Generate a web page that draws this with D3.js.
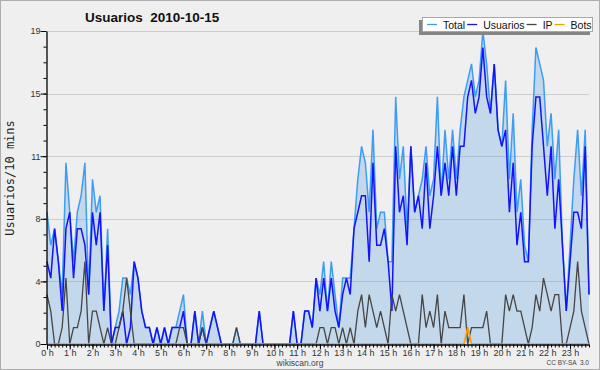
<!DOCTYPE html>
<html>
<head>
<meta charset="utf-8">
<script src="https://cdn.jsdelivr.net/npm/d3@7"></script>
<style>
  body { margin: 0; background: #efeff0; }
  svg { display: block; }
</style>
</head>
<body>
<div id="chart"></div>
<script>
// etiquetas de horas del eje x
const hourLabels = ["0 h", "1 h", "2 h", "3 h", "4 h", "5 h", "6 h", "7 h", "8 h", "9 h", "10 h", "11 h",
  "12 h", "13 h", "14 h", "15 h", "16 h", "17 h", "18 h", "19 h", "20 h", "21 h", "22 h", "23 h"];
const yTickValues = [0, 3.8, 7.6, 11.4, 15.2, 19];
const yTickLabels = ["0", "4", "8", "11", "15", "19"];
const seriesNames = ["Total", "Usuarios", "IP", "Bots"];

// valores cada 10 minutos (144 puntos)
const total = [
  8, 6, 7, 5, 3, 11, 8, 5, 8, 9,
  11, 3, 10, 8, 9, 2, 7, 0, 1, 2,
  4, 4, 3, 5, 4, 2, 1, 1, 0, 1,
  0, 1, 0, 1, 1, 2, 3, 0, 0, 2,
  0, 2, 0, 1, 2, 1, 0, 0, 0, 0,
  1, 0, 0, 0, 0, 0, 2, 0, 0, 0,
  0, 0, 0, 0, 0, 2, 0, 0, 2, 2,
  1, 4, 3, 5, 2, 5, 3, 1, 4, 4,
  4, 7, 10, 12, 11, 8, 13, 7, 8, 8,
  5, 5, 15, 10, 12, 7, 12, 8, 9, 10,
  12, 9, 10, 15, 9, 13, 10, 13, 10, 13,
  15, 16, 17, 15, 16, 19, 17, 14, 17, 13,
  12, 16, 10, 14, 8, 10, 6, 5, 13, 18,
  17, 16, 12, 14, 10, 13, 6, 2, 6, 10,
  13, 9, 13, 3
];
const usuarios = [
  5, 4, 7, 5, 2, 7, 8, 4, 7, 7,
  6, 3, 8, 6, 8, 2, 6, 0, 1, 1,
  2, 0, 1, 5, 4, 2, 1, 1, 0, 1,
  0, 1, 0, 1, 1, 1, 2, 0, 0, 2,
  0, 1, 0, 1, 2, 1, 0, 0, 0, 0,
  0, 0, 0, 0, 0, 0, 2, 0, 0, 0,
  0, 0, 0, 0, 0, 2, 0, 0, 2, 2,
  1, 4, 2, 4, 2, 4, 2, 1, 3, 4,
  3, 7, 8, 9, 9, 5, 11, 6, 6, 7,
  5, 2, 12, 8, 9, 6, 12, 8, 9, 7,
  11, 7, 9, 12, 9, 11, 9, 12, 9, 12,
  12, 15, 16, 14, 15, 18, 15, 14, 17, 13,
  12, 13, 8, 11, 6, 8, 5, 5, 12, 15,
  15, 12, 9, 12, 7, 10, 6, 2, 5, 8,
  8, 7, 12, 3
];
const ip = [
  3, 2, 0, 0, 1, 4, 0, 1, 1, 2,
  5, 0, 2, 2, 1, 0, 1, 0, 0, 1,
  2, 4, 2, 0, 0, 0, 0, 0, 0, 0,
  0, 0, 0, 0, 0, 1, 1, 0, 0, 0,
  0, 1, 0, 0, 0, 0, 0, 0, 0, 0,
  1, 0, 0, 0, 0, 0, 0, 0, 0, 0,
  0, 0, 0, 0, 0, 0, 0, 0, 0, 0,
  0, 0, 1, 1, 0, 1, 1, 0, 1, 0,
  1, 0, 2, 3, 1, 3, 2, 1, 2, 1,
  0, 3, 2, 3, 2, 1, 0, 0, 0, 3,
  1, 2, 1, 3, 0, 2, 1, 1, 1, 1,
  3, 0, 1, 1, 1, 1, 2, 0, 0, 0,
  0, 3, 2, 3, 2, 2, 1, 0, 1, 3,
  2, 4, 3, 2, 3, 3, 0, 0, 1, 2,
  5, 2, 1, 0
];
const bots = [
  0, 0, 0, 0, 0, 0, 0, 0, 0, 0,
  0, 0, 0, 0, 0, 0, 0, 0, 0, 0,
  0, 0, 0, 0, 0, 0, 0, 0, 0, 0,
  0, 0, 0, 0, 0, 0, 0, 0, 0, 0,
  0, 0, 0, 0, 0, 0, 0, 0, 0, 0,
  0, 0, 0, 0, 0, 0, 0, 0, 0, 0,
  0, 0, 0, 0, 0, 0, 0, 0, 0, 0,
  0, 0, 0, 0, 0, 0, 0, 0, 0, 0,
  0, 0, 0, 0, 0, 0, 0, 0, 0, 0,
  0, 0, 0, 0, 0, 0, 0, 0, 0, 0,
  0, 0, 0, 0, 0, 0, 0, 0, 0, 0,
  0, 1, 0, 0, 0, 0, 0, 0, 0, 0,
  0, 0, 0, 0, 0, 0, 0, 0, 0, 0,
  0, 0, 0, 0, 0, 0, 0, 0, 0, 0,
  0, 0, 0, 0
];

const colors = { Total: "#3d9cf5", Usuarios: "#1212ff", IP: "#454545", Bots: "#ff9a00" };
const seriesData = { Total: total, Usuarios: usuarios, IP: ip, Bots: bots };

const width = 600;
const height = 370;
const font = "'Liberation Sans', Arial, sans-serif";

const svg = d3.select("#chart")
  .append("svg")
  .attr("width", width)
  .attr("height", height);

// fondo y borde
svg.append("rect")
  .attr("x", 0.5).attr("y", 0.5)
  .attr("width", width - 1).attr("height", height - 1)
  .attr("fill", "#efeff0")
  .attr("stroke", "#adadad");

const x = d3.scaleLinear().domain([0, total.length - 1]).range([47, 589]);
const y = d3.scaleLinear().domain([0, 19]).range([344, 31]);

// recorte para que las lineas en cero queden bajo el eje
svg.append("clipPath")
  .attr("id", "plot-clip")
  .append("rect")
  .attr("x", 0).attr("y", 0)
  .attr("width", width).attr("height", y(0));

// lineas de cuadricula
svg.append("g")
  .selectAll("line")
  .data(yTickValues.slice(1))
  .join("line")
  .attr("x1", x(0)).attr("x2", x(total.length - 1))
  .attr("y1", d => Math.round(y(d)) + 0.5)
  .attr("y2", d => Math.round(y(d)) + 0.5)
  .attr("stroke", "#cdcdcf");

const plot = svg.append("g").attr("clip-path", "url(#plot-clip)");

// area del total
plot.append("path")
  .datum(total)
  .attr("fill", "#4a98e0")
  .attr("fill-opacity", 0.26)
  .attr("d", d3.area().x((d, i) => x(i)).y0(y(0)).y1(d => y(d)));

// lineas de cada serie
seriesNames.forEach(name => {
  plot.append("path")
    .datum(seriesData[name])
    .attr("fill", "none")
    .attr("stroke", colors[name])
    .attr("stroke-width", name === "IP" ? 1.3 : 1.5)
    .attr("stroke-linejoin", "miter")
    .attr("d", d3.line().x((d, i) => x(i)).y(d => y(d)));
});

// eje y
const yAxis = svg.append("g")
  .attr("transform", `translate(${x(0) - 0.5},0)`)
  .call(d3.axisLeft(y).tickValues(yTickValues).tickFormat((d, i) => yTickLabels[i]).tickSize(6).tickSizeOuter(0));
svg.append("g")
  .attr("transform", `translate(${x(0) - 0.5},0)`)
  .call(d3.axisLeft(y).tickValues(d3.range(0, 20).map(k => k * 0.95)).tickFormat("").tickSize(3).tickSizeOuter(0))
  .select(".domain").remove();

// eje x
const xAxis = svg.append("g")
  .attr("transform", `translate(0,${y(0) + 0.5})`)
  .call(d3.axisBottom(x).tickValues(d3.range(0, 144, 6)).tickFormat((d, i) => hourLabels[i]).tickSize(5).tickSizeOuter(0));
svg.append("g")
  .attr("transform", `translate(0,${y(0) + 0.5})`)
  .call(d3.axisBottom(x).tickValues(d3.range(0, 144)).tickFormat("").tickSize(3).tickSizeOuter(0))
  .select(".domain").remove();

svg.selectAll(".tick line").attr("stroke", "#000");
svg.selectAll(".domain").attr("stroke", "#000").attr("stroke-width", 1.3);
[yAxis, xAxis].forEach(a => a.selectAll("text")
  .style("font-family", font).style("font-size", "9px").attr("fill", "#333"));
yAxis.selectAll("text").attr("x", -6);
xAxis.selectAll("text").attr("y", 5);

// titulo
svg.append("text")
  .attr("x", 85).attr("y", 21.5)
  .style("white-space", "pre")
  .style("font-family", font).style("font-size", "13.5px").style("font-weight", "bold")
  .attr("fill", "#111")
  .text("Usuarios  2010-10-15");

// titulo del eje y
svg.append("text")
  .attr("transform", "translate(14,178) rotate(-90)")
  .attr("text-anchor", "middle")
  .style("font-family", "'DejaVu Sans Mono', monospace").style("font-size", "12px")
  .attr("fill", "#222")
  .text("Usuarios/10 mins");

// leyenda
const legend = svg.append("g");
legend.append("rect").attr("x", 419).attr("y", 20).attr("width", 171).attr("height", 15).attr("fill", "#858585");
legend.append("rect").attr("x", 422.5).attr("y", 17.5).attr("width", 170).attr("height", 14)
  .attr("fill", "#fff").attr("stroke", "#a8a8a8");
let lx = 427;
seriesNames.forEach(name => {
  legend.append("line")
    .attr("x1", lx).attr("x2", lx + 10).attr("y1", 24.5).attr("y2", 24.5)
    .attr("stroke", colors[name]).attr("stroke-width", 1.3);
  const t = legend.append("text")
    .attr("x", lx + 16).attr("y", 28.5)
    .style("font-family", font).style("font-size", "10.5px")
    .attr("fill", "#111")
    .text(name);
  lx += 16 + t.node().getComputedTextLength() + 2;
});

// pie
svg.append("text")
  .attr("x", 300).attr("y", 366)
  .attr("text-anchor", "middle")
  .style("font-family", font).style("font-size", "8.5px")
  .attr("fill", "#444")
  .text("wikiscan.org");
svg.append("text")
  .attr("x", 589).attr("y", 365)
  .attr("text-anchor", "end")
  .style("white-space", "pre")
  .style("font-family", font).style("font-size", "6.5px")
  .attr("fill", "#444")
  .text("CC BY-SA  3.0");
</script>
</body>
</html>
